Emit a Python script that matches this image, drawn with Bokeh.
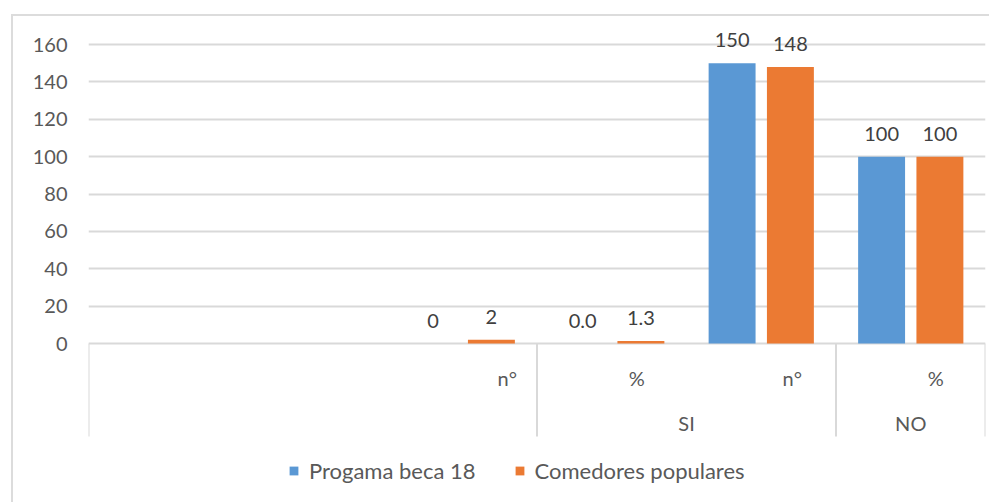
import numpy as np
from bokeh.plotting import figure
from bokeh.models import ColumnDataSource, FixedTicker, Legend, LegendItem, Range1d
from bokeh.core.properties import value
from bokeh.embed import file_html
from bokeh.resources import INLINE

# ---------------- data ----------------
groups = ["", "", "", "SI", "SI", "NO"]
sub_labels = ["", "", "n°", "%", "n°", "%"]
beca = [None, None, 0, 0.0, 150, 100]
comedores = [None, None, 2, 1.3, 148, 100]
beca_text = ["", "", "0", "0.0", "150", "100"]
comedores_text = ["", "", "2", "1.3", "148", "100"]
series_names = ["Progama beca 18", "Comedores populares"]
y_ticks = [0, 20, 40, 60, 80, 100, 120, 140, 160]

# ---------------- style / layout ----------------
FONT = "Lato"
BLUE = "#5a98d4"
ORANGE = "#eb7a33"
GRID = "#d9d9d9"
TXT = "#595959"
VAL_TXT = "#404040"
BORDER = 2
W, H = 978, 488
B_LEFT, B_RIGHT, B_TOP, B_BOTTOM = 75, 6, 0, 0
top_tick_gap_px = 28        # from frame top down to the 160 gridline
plot_h_px = 299.0           # pixel height from 0 to 160
bar_w = 0.314
dodge = 0.195
sub_dx = [0, 0, 45, 25, 31, 25]   # horizontal nudges of sub-category labels (px)
sep_depth_px = 93

n = len(groups)
y_top = y_ticks[-1]
frame_h = H - B_TOP - B_BOTTOM
ppu = plot_h_px / y_top
y_end = y_top + top_tick_gap_px / ppu
y_start = y_end - frame_h / ppu

p = figure(width=W, height=H, output_backend="svg", toolbar_location=None,
           x_range=Range1d(0, n), y_range=Range1d(y_start, y_end),
           x_axis_location=None, min_border_left=B_LEFT, min_border_right=B_RIGHT,
           min_border_top=B_TOP, min_border_bottom=B_BOTTOM,
           margin=(14, 0, 0, 11),
           styles={"border-top": f"{BORDER}px solid #dcdcdc", "border-left": f"{BORDER}px solid #dcdcdc"})
p.outline_line_color = None
p.background_fill_color = "white"
p.border_fill_color = "white"

# y axis
p.yaxis.ticker = FixedTicker(ticks=y_ticks)
p.yaxis.axis_line_color = None
p.yaxis.major_tick_line_color = None
p.yaxis.minor_tick_line_color = None
p.yaxis.major_tick_out = 0
p.yaxis.major_tick_in = 0
p.yaxis.major_label_standoff = 21
p.yaxis.major_label_text_font = FONT
p.yaxis.major_label_text_font_size = "20px"
p.yaxis.major_label_text_color = TXT
p.xgrid.visible = False
p.ygrid.ticker = FixedTicker(ticks=y_ticks)
p.ygrid.grid_line_color = GRID
p.ygrid.grid_line_width = 2

# category separators (from the group structure)
bounds = [0] + [i for i in range(1, n) if groups[i] != groups[i - 1]] + [n]
sep_y1 = -sep_depth_px / ppu
p.segment(x0=bounds, y0=[0] * len(bounds), x1=bounds, y1=[sep_y1] * len(bounds),
          line_color=GRID, line_width=2)

# bars
idx_b = [i for i in range(n) if beca[i] is not None]
idx_c = [i for i in range(n) if comedores[i] is not None]
src_b = ColumnDataSource(dict(x=[i + 0.5 - dodge for i in idx_b], top=[beca[i] for i in idx_b],
                              t=[beca_text[i] for i in idx_b]))
src_c = ColumnDataSource(dict(x=[i + 0.5 + dodge for i in idx_c], top=[comedores[i] for i in idx_c],
                              t=[comedores_text[i] for i in idx_c]))
rb = p.vbar(x="x", top="top", bottom=0, width=bar_w, source=src_b, fill_color=BLUE, line_color=None)
rc = p.vbar(x="x", top="top", bottom=0, width=bar_w, source=src_c, fill_color=ORANGE, line_color=None)

for src in (src_b, src_c):
    p.text(x="x", y="top", text="t", source=src, text_align="center", text_baseline="alphabetic",
           y_offset=-23, text_font=value(FONT), text_font_size="20px", text_color=VAL_TXT)

# sub-category labels
sub_src = ColumnDataSource(dict(x=[i + 0.5 for i in range(n)], y=[0] * n, t=sub_labels, dx=sub_dx))
p.text(x="x", y="y", text="t", source=sub_src, x_offset="dx", y_offset=34,
       text_align="center", text_baseline="middle",
       text_font=value(FONT), text_font_size="20px", text_color=TXT)

# group labels
g_x, g_t = [], []
for a, b in zip(bounds[:-1], bounds[1:]):
    g_x.append((a + b) / 2)
    g_t.append(groups[a])
grp_src = ColumnDataSource(dict(x=g_x, y=[0] * len(g_x), t=g_t))
p.text(x="x", y="y", text="t", source=grp_src, y_offset=79,
       text_align="center", text_baseline="middle",
       text_font=value(FONT), text_font_size="20px", text_color=TXT)

# legend
legend = Legend(items=[LegendItem(label=series_names[0], renderers=[rb]),
                       LegendItem(label=series_names[1], renderers=[rc])],
                orientation="horizontal", location=(200, 20))
legend.padding = 0
legend.margin = 0
legend.spacing = 38
legend.glyph_width = 11
legend.glyph_height = 11
legend.label_height = 22
legend.label_standoff = 10
legend.label_text_font = FONT
legend.label_text_font_size = "22px"
legend.label_text_color = TXT
legend.border_line_color = None
legend.background_fill_alpha = 0
p.add_layout(legend)

open("out.html", "w").write(file_html(p, INLINE))
